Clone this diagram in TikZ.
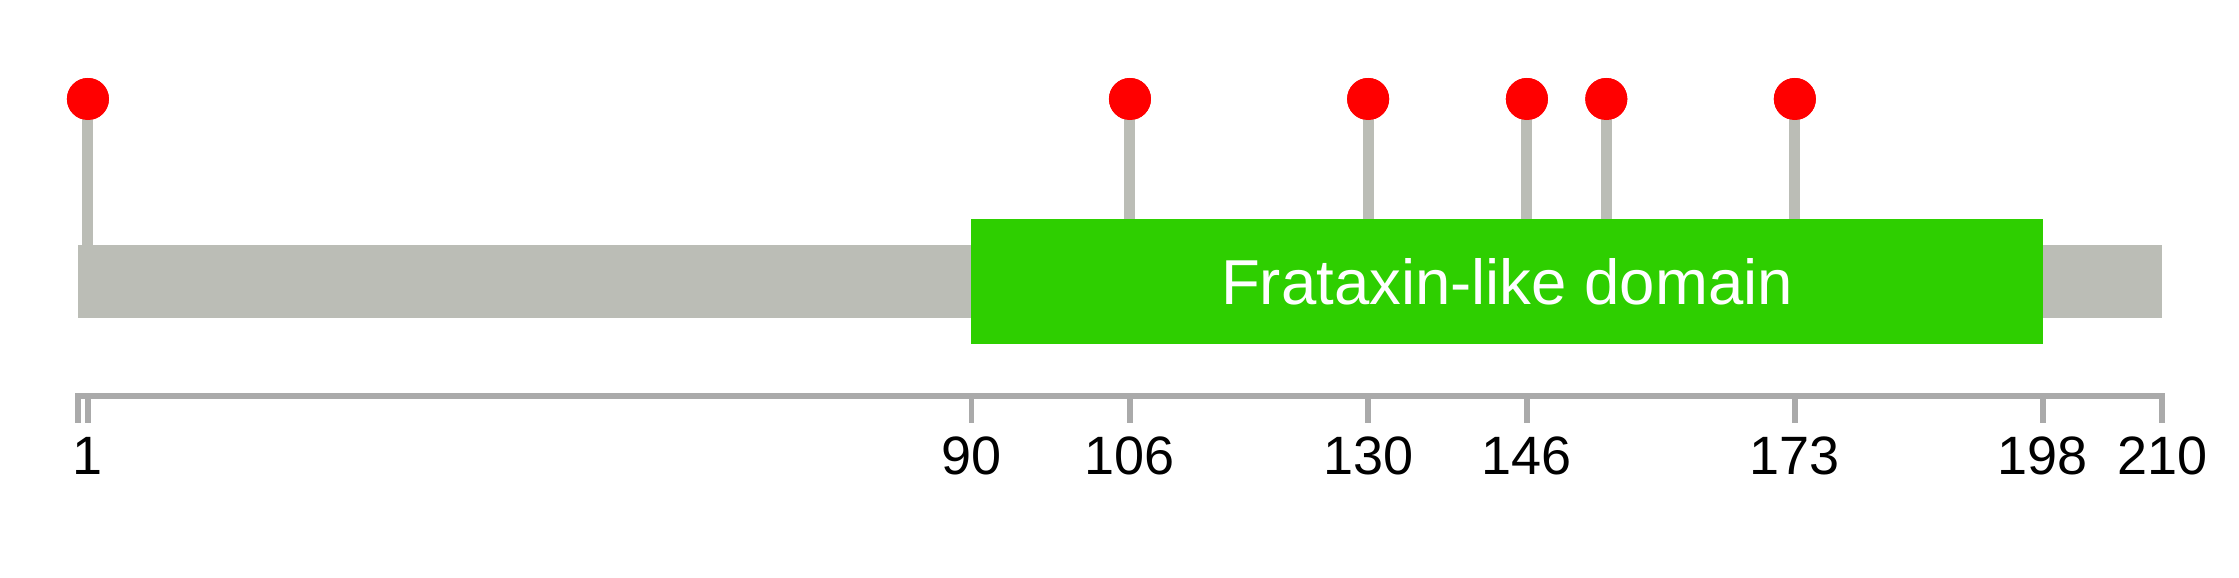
\documentclass[tikz,border=0pt]{standalone}
\usepackage{fontspec}
\setmainfont{Liberation Sans}
\definecolor{bargray}{RGB}{187,189,182}
\definecolor{axisgray}{RGB}{170,170,170}
\definecolor{domgreen}{RGB}{46,207,0}
\definecolor{lolred}{RGB}{255,0,0}
\begin{document}
\begin{tikzpicture}[x=1pt,y=-1pt,
  lolly/.style={circle,fill=lolred,draw=none,minimum size=42pt,inner sep=0pt},
  stick/.style={draw=bargray,line width=11pt},
  barbox/.style={fill=bargray,draw=none,inner sep=0pt,minimum width=2084pt,minimum height=73pt},
  dombox/.style={fill=domgreen,draw=none,inner sep=0pt,minimum width=1072pt,minimum height=125pt,
    text=white,font=\fontsize{63.5}{70}\selectfont},
  axisline/.style={draw=axisgray,line width=5.3pt},
  tickline/.style={draw=axisgray,line width=5.3pt},
  ticklabel/.style={anchor=base,inner sep=0pt,font=\fontsize{54}{60}\selectfont}]
\useasboundingbox (0,0) rectangle (2239,578);
% sticks and lollipops
\foreach \r/\n in {1/a,106/b,130/c,146/d,154/e,173/f}{
  \coordinate (s\n) at ({78+\r*9.924},245);
  \node[lolly] (l\n) at ({78+\r*9.924},99) {};
}
\foreach \n in {a,b,c,d,e,f}{
  \draw[stick] (s\n) -- (l\n.center);
}
% protein bar
\node[barbox] (bar) at (1120,281.5) {};
% domain
\node[dombox] (dom) at (1507,281.5) {Frataxin-like domain};
% circles on top
\foreach \r/\n in {1/a,106/b,130/c,146/d,154/e,173/f}{
  \node[lolly] at (l\n) {};
}
% axis
\coordinate (ax0) at (75.35,396);
\coordinate (ax1) at (2164.65,396);
\draw[axisline] (ax0) -- (ax1);
\foreach \r in {0,1,90,106,130,146,173,198,210}{
  \coordinate (tt\r) at ({78+\r*9.924},394);
  \coordinate (tb\r) at ({78+\r*9.924},423);
  \draw[tickline] (tt\r) -- (tb\r);
}
\foreach \r in {1,90,106,130,146,173,198,210}{
  \node[ticklabel] (lab\r) at ({78+\r*9.924},474) {\r};
}
\end{tikzpicture}
\end{document}
